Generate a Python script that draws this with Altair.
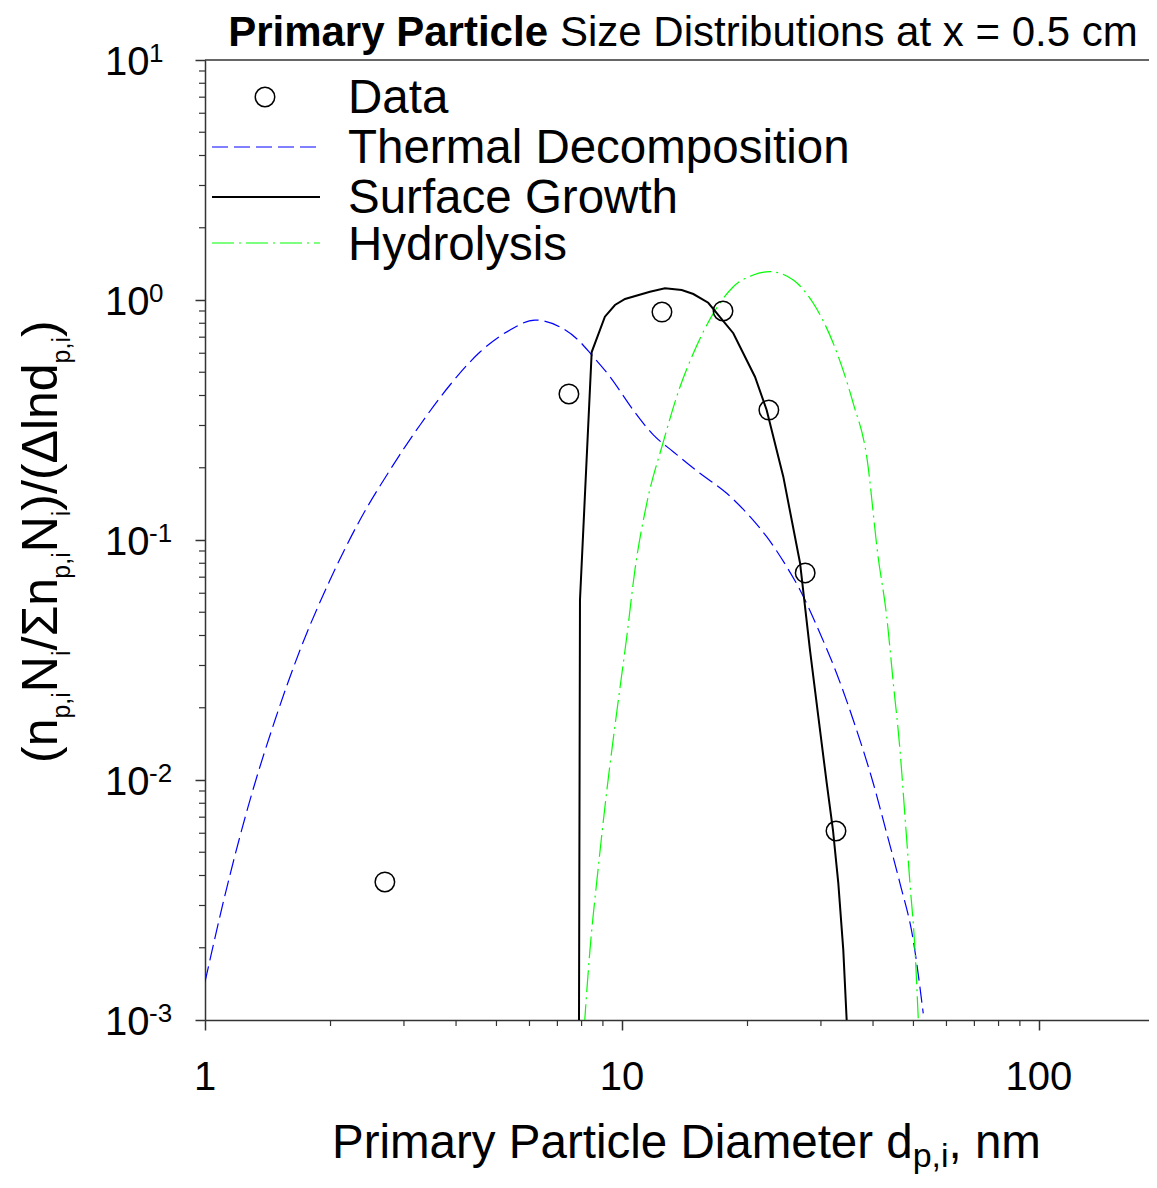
import altair as alt
import pandas as pd

# ---------------- data ----------------
data_d = [2.7, 7.46, 12.47, 17.47, 22.5, 27.5, 32.6]
data_v = [0.00376, 0.406, 0.891, 0.90, 0.348, 0.0729, 0.00613]

thermal_d = [1.000, 1.117, 1.282, 1.472, 1.690, 1.994, 2.353, 2.777, 3.279, 3.868,
             4.565, 5.388, 6.185, 7.10, 7.93, 8.46, 9.36, 10.64, 11.89, 13.27,
             15.38, 17.83, 20.28, 22.23, 24.83, 26.73, 29.84, 32.72, 35.86, 40.05,
             43.14, 46.42, 49.95, 52.78]
thermal_v = [0.00144, 0.00332, 0.00825, 0.01778, 0.0348, 0.0681, 0.1212, 0.1957, 0.3015, 0.4424,
             0.607, 0.750, 0.825, 0.772, 0.670, 0.590, 0.479, 0.348, 0.274, 0.2333,
             0.1896, 0.1565, 0.1251, 0.1032, 0.0774, 0.0619, 0.0409, 0.0278, 0.01778, 0.00969,
             0.0060, 0.00371, 0.00215, 0.001066]

surface_d = [7.88, 7.93, 8.46, 9.10, 9.62, 10.17, 11.67, 12.68, 13.91, 14.83, 16.1, 18.49,
             20.84, 22.23, 24.37, 26.73, 28.24, 29.57, 30.97, 32.06, 33.02, 33.94, 34.58, 34.8]
surface_v = [0.0005, 0.0562, 0.607, 0.852, 0.953, 1.01, 1.083, 1.119, 1.10, 1.059, 0.974, 0.727,
             0.479, 0.348, 0.1836, 0.0802, 0.0348, 0.01836, 0.00972, 0.00619, 0.00372, 0.00196,
             0.001, 0.00068]

hydro_d = [8.02, 8.38, 8.76, 9.20, 9.73, 10.28, 10.74, 11.47, 12.54, 13.78, 14.83, 16.56,
           18.49, 20.64, 22.64, 25.75, 28.76, 32.11, 35.86, 38.63, 41.11, 43.14, 44.74,
           46.42, 47.72, 49.05, 50.43, 51.36, 51.83]
hydro_v = [0.00068, 0.00196, 0.00422, 0.00909, 0.01957, 0.0402, 0.075, 0.1426, 0.2536,
           0.4352, 0.5995, 0.880, 1.136, 1.271, 1.312, 1.211, 0.969, 0.660, 0.371, 0.2224,
           0.0858, 0.0479, 0.0253, 0.01334, 0.00704, 0.00371, 0.00196, 0.001, 0.00068]

x_major = [1, 10, 100]
x_major_labels = ["1", "10", "100"]
x_minor = [2, 3, 4, 5, 6, 7, 8, 9, 20, 30, 40, 50, 60, 70, 80, 90]
y_major = [10, 1, 0.1, 0.01, 0.001]
y_major_exp = ["1", "0", "-1", "-2", "-3"]
y_minor = [k * 10.0 ** e for e in (-3, -2, -1, 0) for k in range(2, 10)]

legend_names = ["Data", "Thermal Decomposition", "Surface Growth", "Hydrolysis"]

# ---------------- styling ----------------
FONT = "Liberation Sans, Arial, sans-serif"
AX = "#333333"
W, H = 944, 960
X_MAX = 183.6

xs = alt.Scale(type="log", domain=[1, X_MAX], nice=False)
ys = alt.Scale(type="log", domain=[0.001, 10], nice=False)
xax = alt.Axis(values=x_major, labels=False, tickSize=10, tickWidth=1.5, tickColor=AX,
               domainColor=AX, domainWidth=1.5, grid=False, title="")
yax = alt.Axis(values=y_major, labels=False, tickSize=10, tickWidth=1.5, tickColor=AX,
               domainColor=AX, domainWidth=1.5, grid=False, title="")


def X(f):
    return alt.X(f, type="quantitative", scale=xs, axis=xax)


def Y(f):
    return alt.Y(f, type="quantitative", scale=ys, axis=yax)


def line_layer(d, v, color, width, dash):
    df = pd.DataFrame({"d": d, "v": v})
    return alt.Chart(df).mark_line(color=color, strokeWidth=width, strokeDash=dash,
                                   interpolate="monotone", clip=True).encode(x=X("d"), y=Y("v"))


layers = []
layers.append(line_layer(thermal_d, thermal_v, "#0000ff", 1.2, [16, 6]))
layers.append(line_layer(hydro_d, hydro_v, "#00ff00", 1.2, [22, 5, 2, 5]))
layers.append(alt.Chart(pd.DataFrame({"d": surface_d, "v": surface_v}))
              .mark_line(color="black", strokeWidth=2, clip=True)
              .encode(x=X("d"), y=Y("v")))

pts = pd.DataFrame({"d": data_d, "v": data_v})
layers.append(alt.Chart(pts).mark_point(shape="circle", filled=False, size=380,
                                        stroke="black", strokeWidth=1.5, opacity=1)
              .encode(x=X("d"), y=Y("v")))

# minor ticks
layers.append(alt.Chart(pd.DataFrame({"d": x_minor})).mark_rule(color=AX, strokeWidth=1.2)
              .encode(x=X("d"), y=alt.value(H), y2=alt.value(H + 6)))
layers.append(alt.Chart(pd.DataFrame({"v": y_minor})).mark_rule(color=AX, strokeWidth=1.2)
              .encode(y=Y("v"), x=alt.value(-6), x2=alt.value(0)))

# top border
layers.append(alt.Chart(pd.DataFrame({"a": [0]})).mark_rule(color=AX, strokeWidth=1.5)
              .encode(x=alt.value(0), x2=alt.value(W + 8), y=alt.value(0)))

# tick labels
xl = pd.DataFrame({"d": x_major, "lab": x_major_labels})
layers.append(alt.Chart(xl).mark_text(font=FONT, fontSize=40, align="center",
                                      baseline="alphabetic", color="black")
              .encode(x=X("d"), y=alt.value(H + 70), text="lab:N"))
yl = pd.DataFrame({"v": y_major, "base": ["10"] * len(y_major), "exp": y_major_exp})
layers.append(alt.Chart(yl).mark_text(font=FONT, fontSize=40, align="left",
                                      baseline="alphabetic", dy=15, color="black")
              .encode(y=Y("v"), x=alt.value(-100), text="base:N"))
layers.append(alt.Chart(yl).mark_text(font=FONT, fontSize=26, align="left",
                                      baseline="alphabetic", dy=2, color="black")
              .encode(y=Y("v"), x=alt.value(-56), text="exp:N"))


def label(text, x, y, size, weight="normal", angle=0, align="left"):
    return (alt.Chart(pd.DataFrame({"t": [text]}))
            .mark_text(font=FONT, fontSize=size, fontWeight=weight, angle=angle,
                       align=align, baseline="alphabetic", color="black")
            .encode(x=alt.value(x), y=alt.value(y), text="t:N"))


MET = {' ': 278, '(': 333, ')': 333, '/': 278, ',': 278, '.': 278, '=': 584, '-': 333,
       'a': 556, 'b': 556, 'c': 500, 'd': 556, 'e': 556, 'h': 556, 'i': 222, 'l': 222,
       'm': 833, 'n': 556, 'o': 556, 'p': 556, 'r': 333, 's': 500, 't': 278, 'u': 556,
       'y': 500, 'x': 500, 'z': 500, 'D': 722, 'N': 722, 'P': 667, 'Σ': 602, 'Δ': 667}


def tw(s, size):
    return sum(MET.get(c, 556) for c in s) * size / 1000.0


# title
layers.append(label("Primary Particle", 343, -14, 42, weight="bold", align="right"))
layers.append(label("Size Distributions at x = 0.5 cm", 355, -14, 42))

# x title with subscript
xt = [("Primary Particle Diameter d", False), ("p,i", True), (", nm", False)]
px = 127
for s, sub in xt:
    size = 34 if sub else 47.5
    layers.append(label(s, px, 1107 if sub else 1098, size))
    px += tw(s, size)

# y title (rotated) with subscripts
yt = [("(n", False), ("p,i", True), ("N", False), ("i", True), ("/Σn", False), ("p,i", True),
      ("N", False), ("i", True), (")/(Δlnd", False), ("p,i", True), (")", False)]
py = 703
for s, sub in yt:
    size = 25 if sub else 50
    layers.append(label(s, -135 if sub else -148, py, size, angle=270))
    py -= tw(s, size)

# legend
layers.append(alt.Chart(pd.DataFrame({"a": [0]})).mark_point(shape="circle", filled=False,
                                                             size=380, stroke="black",
                                                             strokeWidth=1.5, opacity=1)
              .encode(x=alt.value(60), y=alt.value(37)))
leg_lines = [("#0000ff", 1.2, [16, 6], 87), ("black", 2, [1, 0], 137),
             ("#00ff00", 1.2, [22, 5, 2, 5], 183)]
for color, wdt, dash, yy in leg_lines:
    layers.append(alt.Chart(pd.DataFrame({"a": [0]}))
                  .mark_rule(color=color, strokeWidth=wdt, strokeDash=dash)
                  .encode(x=alt.value(7), x2=alt.value(115), y=alt.value(yy)))
for name, yy in zip(legend_names, [53, 103, 153, 200]):
    layers.append(label(name, 143, yy, 47.5))

chart = (alt.layer(*layers)
         .properties(width=W, height=H,
                     autosize=alt.AutoSizeParams(type="none"),
                     padding={"left": 197, "top": 52, "right": 0, "bottom": 158})
         .configure_view(strokeWidth=0))

chart.save("out.html", embed_options={"renderer": "svg", "actions": False})
